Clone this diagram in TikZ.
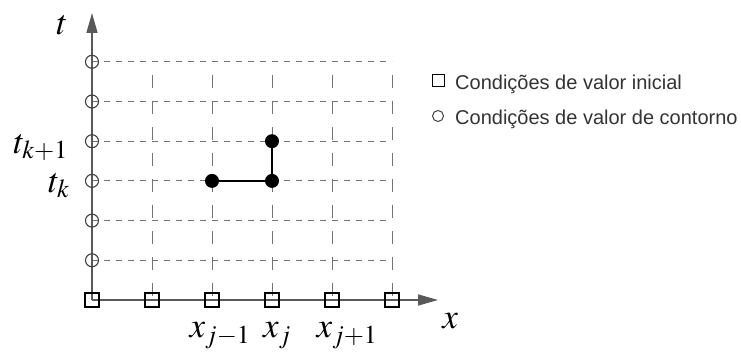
\documentclass[tikz,border=0pt]{standalone}
\usepackage{mathptmx}
\usepackage{fontspec}
\setsansfont{Liberation Sans}
\usetikzlibrary{arrows.meta}

\begin{document}
\begin{tikzpicture}[
        x=60pt, y=39.7pt,
        gridh/.style={draw=black!55, line width=0.9pt, dash pattern=on 6pt off 6pt},
        gridv/.style={draw=black!55, line width=0.9pt, dash pattern=on 13pt off 13pt, dash phase=13pt},
        axis/.style={-{Triangle[length=20pt,width=11pt]}, draw=gray!70!black, fill=gray!70!black, line width=1.3pt},
        bnd/.style={circle, draw=black!75, line width=1.1pt, minimum size=13pt, inner sep=0pt},
        ini/.style={rectangle, draw=black, line width=1.1pt, minimum size=14pt, inner sep=0pt},
        pt/.style={circle, fill=black, minimum size=14pt, inner sep=0pt},
        lab/.style={font=\fontsize{35}{35}\selectfont, inner sep=0pt},
        leg/.style={font=\sffamily\fontsize{20}{20}\selectfont, anchor=base west, inner sep=0pt, text=black!80}
      ]
        \useasboundingbox (-1.5333,-1.2846) rectangle (10.8167,7.5567);

        \foreach \r in {1,...,6} \draw[gridh] (0,\r) -- (5,\r);
        \foreach \c in {1,...,5} \draw[gridv] (\c,6) -- (\c,0);

        \coordinate (O) at (0,0);
        \coordinate (xend) at (5.767,0);
        \coordinate (tend) at (0,7.23);
        \draw[axis] (O) -- (xend);
        \draw[axis] (O) -- (tend);

        \node[ini] (s0) at (0,0) {};
        \node[ini] (s1) at (1,0) {};
        \node[ini] (s2) at (2,0) {};
        \node[ini] (s3) at (3,0) {};
        \node[ini] (s4) at (4,0) {};
        \node[ini] (s5) at (5,0) {};

        \node[bnd] (c1) at (0,1) {};
        \node[bnd] (c2) at (0,2) {};
        \node[bnd] (c3) at (0,3) {};
        \node[bnd] (c4) at (0,4) {};
        \node[bnd] (c5) at (0,5) {};
        \node[bnd] (c6) at (0,6) {};

        \node[pt] (P1) at (2,3) {};
        \node[pt] (P2) at (3,3) {};
        \node[pt] (P3) at (3,4) {};
        \draw[line width=1.2pt] (P1) -- (P2) -- (P3);

        \node[lab] (tl) at (-0.5,6.93) {$t$};
        \node[lab, anchor=base east] (tk1) at (-0.4,3.7) {$t_{k+1}$};
        \node[lab, anchor=base east] (tk) at (-0.37,2.72) {$t_k$};
        \node[lab, anchor=base] (xj0) at (2.133,-0.957) {$x_{j-1}$};
        \node[lab, anchor=base] (xj1) at (3.083,-0.957) {$x_j$};
        \node[lab, anchor=base] (xj2) at (4.25,-0.957) {$x_{j+1}$};
        \node[lab] (xl) at (5.97,-0.53) {$x$};

        \node[rectangle, draw=black, line width=1pt, minimum size=12pt, inner sep=0pt] (legs) at (5.775,5.54) {};
        \node[circle, draw=black!75, line width=1pt, minimum size=11pt, inner sep=0pt] (legc) at (5.767,4.635) {};
        \node[leg] (legst) at (6.05,5.29) {Condições de valor inicial};
        \node[leg] (legct) at (6.05,4.41) {Condições de valor de contorno};
      \end{tikzpicture}
\end{document}
